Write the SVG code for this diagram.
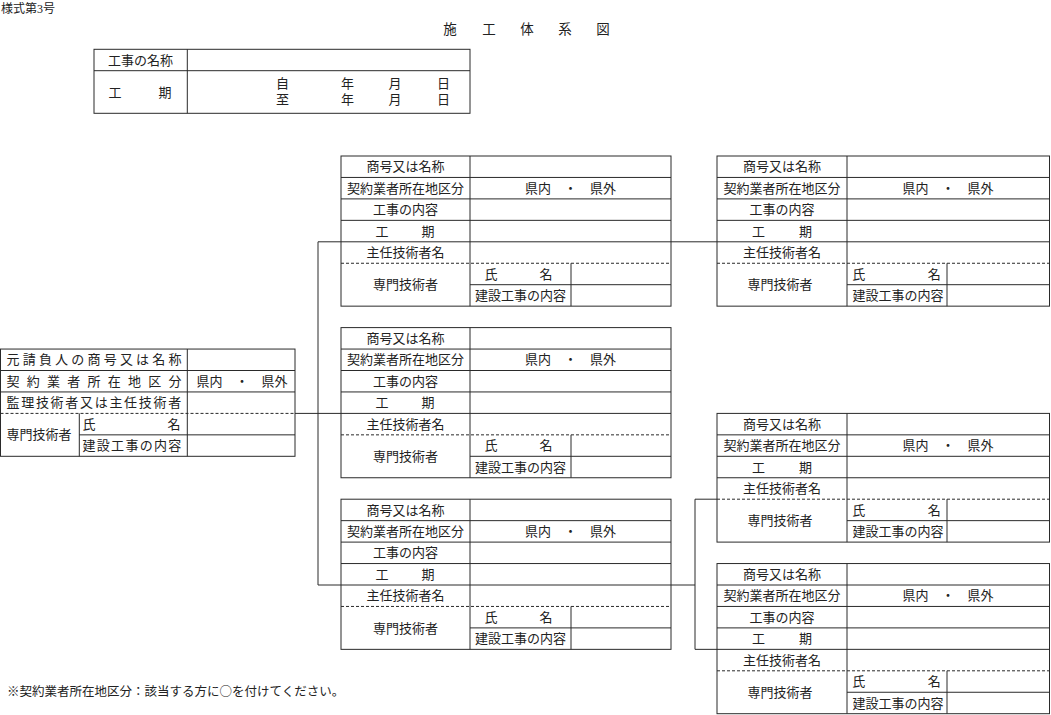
<svg xmlns="http://www.w3.org/2000/svg" width="1051" height="715" viewBox="0 0 1051 715">
<style>
.b{fill:none;stroke:#2a2a2a;stroke-width:1}
.d{stroke-dasharray:3 2}
.t{font-family:"Liberation Serif","Noto Sans CJK JP",serif;font-size:13px;fill:#222}
.j{font-family:"Noto Sans CJK JP","Liberation Serif",sans-serif}
.m{text-anchor:middle}
.c{fill:none;stroke:#2a2a2a;stroke-width:1}
</style>
<rect x="0" y="0" width="1051" height="715" fill="#fff"/>
<text class="t" x="1" y="12.5" style="font-size:12px">様式第3号</text>
<g id="title" class="t m" style="font-size:13.5px">
<text x="450" y="34">施</text><text x="489" y="34">工</text><text x="527" y="34">体</text><text x="565" y="34">系</text><text x="603" y="34">図</text>
</g>
<g id="header">
<rect class="b" x="94" y="49.3" width="376" height="64"/>
<path class="b" d="M94,70.7H470M187.3,49.3V113.3"/>
<text class="t m" x="140.5" y="64.6">工事の名称</text>
<text class="t m" x="115" y="96.6">工</text><text class="t m" x="165" y="96.6">期</text>
<text class="t m" x="282.5" y="87.8">自</text><text class="t m" x="347.5" y="87.8">年</text><text class="t m" x="395" y="87.8">月</text><text class="t m" x="443.5" y="87.8">日</text>
<text class="t m" x="282.5" y="104.3">至</text><text class="t m" x="347.5" y="104.3">年</text><text class="t m" x="395" y="104.3">月</text><text class="t m" x="443.5" y="104.3">日</text>
</g>
<g id="connectors">
<path class="c" d="M318,241.8V585M318,241.8H341M671,241.8H717M295,413.4H341M318,585H341M671,585H695M695,499.2V649.35M695,499.2H717M695,649.35H717"/>
</g>
<g id="prime">
<rect class="b" x="0.5" y="349.05" width="294.5" height="107.25"/>
<path class="b" d="M0.5,370.5H295M0.5,391.95H295M79.3,434.85H295M187.3,349.05V456.3M79.3,413.4V456.3"/>
<path class="b d" d="M0.5,413.4H295"/>
<text class="t" x="6.5" y="364.4" style="letter-spacing:3.2px">元請負人の商号又は名称</text>
<text class="t" x="6.5" y="385.8" style="letter-spacing:7.25px">契約業者所在地区分</text>
<text class="t" x="6.5" y="407.3" style="letter-spacing:1.7px">監理技術者又は主任技術者</text>
<text class="t" x="6.5" y="439.45">専門技術者</text>
<text class="t m" x="89" y="428.7">氏</text><text class="t m" x="174" y="428.7">名</text>
<text class="t" x="82.5" y="450.2" style="letter-spacing:1.3px">建設工事の内容</text>
<text class="t j m" x="242" y="385.8">県内　・　県外</text>
</g>
<g id="sub1">
<rect class="b" x="341" y="156" width="330" height="150.15"/>
<path class="b" d="M341,177.45H671M341,198.9H671M341,220.35H671M341,241.8H671M470,284.7H671M470,156V306.15M571,263.25V306.15"/>
<path class="b d" d="M341,263.25H671"/>
<text class="t m" x="405.5" y="171.3">商号又は名称</text>
<text class="t m" x="405.5" y="192.8">契約業者所在地区分</text>
<text class="t j m" x="570.5" y="192.8">県内　・　県外</text>
<text class="t m" x="405.5" y="214.2">工事の内容</text>
<text class="t m" x="382" y="235.7">工</text><text class="t m" x="428" y="235.7">期</text>
<text class="t m" x="405.5" y="257.1">主任技術者名</text>
<text class="t m" x="405.5" y="289.3">専門技術者</text>
<text class="t m" x="491" y="278.6">氏</text><text class="t m" x="546" y="278.6">名</text>
<text class="t m" x="520.5" y="300">建設工事の内容</text>
</g>
<g id="sub2">
<rect class="b" x="341" y="327.6" width="330" height="150.15"/>
<path class="b" d="M341,349.05H671M341,370.5H671M341,391.95H671M341,413.4H671M470,456.3H671M470,327.6V477.75M571,434.85V477.75"/>
<path class="b d" d="M341,434.85H671"/>
<text class="t m" x="405.5" y="342.9">商号又は名称</text>
<text class="t m" x="405.5" y="364.4">契約業者所在地区分</text>
<text class="t j m" x="570.5" y="364.4">県内　・　県外</text>
<text class="t m" x="405.5" y="385.8">工事の内容</text>
<text class="t m" x="382" y="407.3">工</text><text class="t m" x="428" y="407.3">期</text>
<text class="t m" x="405.5" y="428.7">主任技術者名</text>
<text class="t m" x="405.5" y="460.9">専門技術者</text>
<text class="t m" x="491" y="450.2">氏</text><text class="t m" x="546" y="450.2">名</text>
<text class="t m" x="520.5" y="471.6">建設工事の内容</text>
</g>
<g id="sub3">
<rect class="b" x="341" y="499.2" width="330" height="150.15"/>
<path class="b" d="M341,520.65H671M341,542.1H671M341,563.55H671M341,585H671M470,627.9H671M470,499.2V649.35M571,606.45V649.35"/>
<path class="b d" d="M341,606.45H671"/>
<text class="t m" x="405.5" y="514.5">商号又は名称</text>
<text class="t m" x="405.5" y="536">契約業者所在地区分</text>
<text class="t j m" x="570.5" y="536">県内　・　県外</text>
<text class="t m" x="405.5" y="557.4">工事の内容</text>
<text class="t m" x="382" y="578.9">工</text><text class="t m" x="428" y="578.9">期</text>
<text class="t m" x="405.5" y="600.3">主任技術者名</text>
<text class="t m" x="405.5" y="632.5">専門技術者</text>
<text class="t m" x="491" y="621.8">氏</text><text class="t m" x="546" y="621.8">名</text>
<text class="t m" x="520.5" y="643.2">建設工事の内容</text>
</g>
<g id="sub1a">
<rect class="b" x="717" y="156" width="332.5" height="150.15"/>
<path class="b" d="M717,177.45H1049.5M717,198.9H1049.5M717,220.35H1049.5M717,241.8H1049.5M847,284.7H1049.5M847,156V306.15M947,263.25V306.15"/>
<path class="b d" d="M717,263.25H1049.5"/>
<text class="t m" x="782" y="171.3">商号又は名称</text>
<text class="t m" x="782" y="192.8">契約業者所在地区分</text>
<text class="t j m" x="948" y="192.8">県内　・　県外</text>
<text class="t m" x="782" y="214.2">工事の内容</text>
<text class="t m" x="758.5" y="235.7">工</text><text class="t m" x="805.5" y="235.7">期</text>
<text class="t m" x="782" y="257.1">主任技術者名</text>
<text class="t m" x="780" y="289.3">専門技術者</text>
<text class="t m" x="858.7" y="278.6">氏</text><text class="t m" x="934.2" y="278.6">名</text>
<text class="t m" x="898" y="300">建設工事の内容</text>
</g>
<g id="sub3a">
<rect class="b" x="717" y="413.4" width="332.5" height="128.7"/>
<path class="b" d="M717,434.85H1049.5M717,456.3H1049.5M717,477.75H1049.5M847,520.65H1049.5M847,413.4V542.1M947,499.2V542.1"/>
<path class="b d" d="M717,499.2H1049.5"/>
<text class="t m" x="782" y="428.7">商号又は名称</text>
<text class="t m" x="782" y="450.2">契約業者所在地区分</text>
<text class="t j m" x="948" y="450.2">県内　・　県外</text>
<text class="t m" x="758.5" y="471.6">工</text><text class="t m" x="805.5" y="471.6">期</text>
<text class="t m" x="782" y="493.1">主任技術者名</text>
<text class="t m" x="780" y="525.3">専門技術者</text>
<text class="t m" x="858.7" y="514.5">氏</text><text class="t m" x="934.2" y="514.5">名</text>
<text class="t m" x="898" y="536">建設工事の内容</text>
</g>
<g id="sub3b">
<rect class="b" x="717" y="563.55" width="332.5" height="150.15"/>
<path class="b" d="M717,585H1049.5M717,606.45H1049.5M717,627.9H1049.5M717,649.35H1049.5M847,692.25H1049.5M847,563.55V713.7M947,670.8V713.7"/>
<path class="b d" d="M717,670.8H1049.5"/>
<text class="t m" x="782" y="578.9">商号又は名称</text>
<text class="t m" x="782" y="600.3">契約業者所在地区分</text>
<text class="t j m" x="948" y="600.3">県内　・　県外</text>
<text class="t m" x="782" y="621.8">工事の内容</text>
<text class="t m" x="758.5" y="643.2">工</text><text class="t m" x="805.5" y="643.2">期</text>
<text class="t m" x="782" y="664.7">主任技術者名</text>
<text class="t m" x="780" y="696.85">専門技術者</text>
<text class="t m" x="858.7" y="686.1">氏</text><text class="t m" x="934.2" y="686.1">名</text>
<text class="t m" x="898" y="707.6">建設工事の内容</text>
</g>
<text id="note" class="t j" x="7" y="696" style="font-size:12.5px">※契約業者所在地区分：該当する方に○を付けてください。</text>
</svg>
